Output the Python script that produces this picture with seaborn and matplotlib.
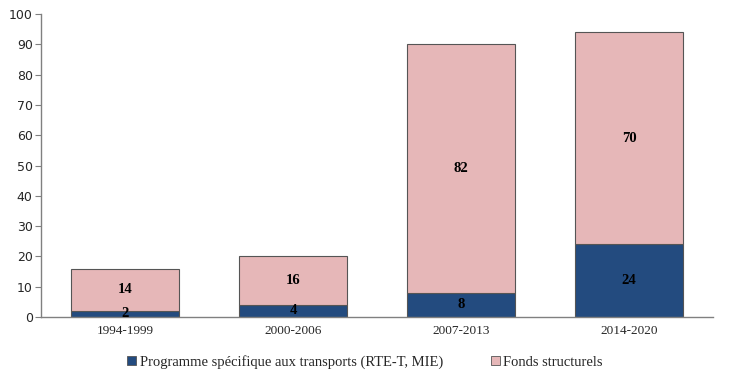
import numpy as np
import pandas as pd
import matplotlib
matplotlib.use("Agg")
import matplotlib.pyplot as plt
import seaborn as sns
from matplotlib.patches import Patch

periods = ["1994-1999", "2000-2006", "2007-2013", "2014-2020"]
transport = [2, 4, 8, 24]
fonds = [14, 16, 82, 70]

sns.set_style("white")
plt.rcParams['font.family'] = ['Liberation Serif', 'DejaVu Serif']

blue = "#234B7F"
pink = "#E6B7B8"
edge = "#555555"

df = pd.DataFrame({"Période": periods, "transport": transport, "fonds": fonds})

fig = plt.figure(figsize=(7.3, 3.84), dpi=100)
ax = fig.add_axes([0.0562, 0.1745, 0.9205, 0.789])

sns.barplot(data=df, x="Période", y="transport", color=blue, saturation=1,
            width=0.64, edgecolor=edge, linewidth=0.8, ax=ax)
sns.barplot(data=df, x="Période", y="fonds", bottom=df["transport"], color=pink,
            saturation=1, width=0.64, edgecolor=edge, linewidth=0.8, ax=ax)

for i in range(len(periods)):
    ax.text(i, transport[i] / 2, str(transport[i]), ha="center", va="center",
            fontsize=10.5, fontweight="bold", color="black")
    ax.text(i, transport[i] + fonds[i] / 2, str(fonds[i]), ha="center", va="center",
            fontsize=10.5, fontweight="bold", color="black")

ax.set_xlim(-0.5, 3.5)
ax.set_ylim(0, 100)
ax.set_yticks(range(0, 101, 10))
ax.set_xlabel("")
ax.set_ylabel("")
for lab in ax.get_yticklabels():
    lab.set_fontfamily(["DejaVu Sans"])
    lab.set_fontsize(9)
for lab in ax.get_xticklabels():
    lab.set_fontsize(9.5)

ax.set_xticks(np.arange(-0.5, 4, 1), minor=True)
ax.tick_params(axis="x", which="major", length=0, pad=6)
ax.tick_params(axis="x", which="minor", length=4, color="#808080", direction="out")
ax.tick_params(axis="y", length=4, color="#808080", direction="out", left=True, pad=2)

sns.despine(ax=ax, top=True, right=True)
for s in ["left", "bottom"]:
    ax.spines[s].set_color("#808080")
    ax.spines[s].set_linewidth(1)

handles = [Patch(facecolor=blue, edgecolor=edge, linewidth=0.6),
           Patch(facecolor=pink, edgecolor=edge, linewidth=0.6)]
fig.legend(handles, ["Programme spécifique aux transports (RTE-T, MIE)", "Fonds structurels"],
           loc="center", bbox_to_anchor=(0.5, 0.057), ncol=2, frameon=False,
           fontsize=10.5, handlelength=0.6, handleheight=0.6, handletextpad=0.25,
           columnspacing=3.3)

fig.savefig("out.png", dpi=100)
